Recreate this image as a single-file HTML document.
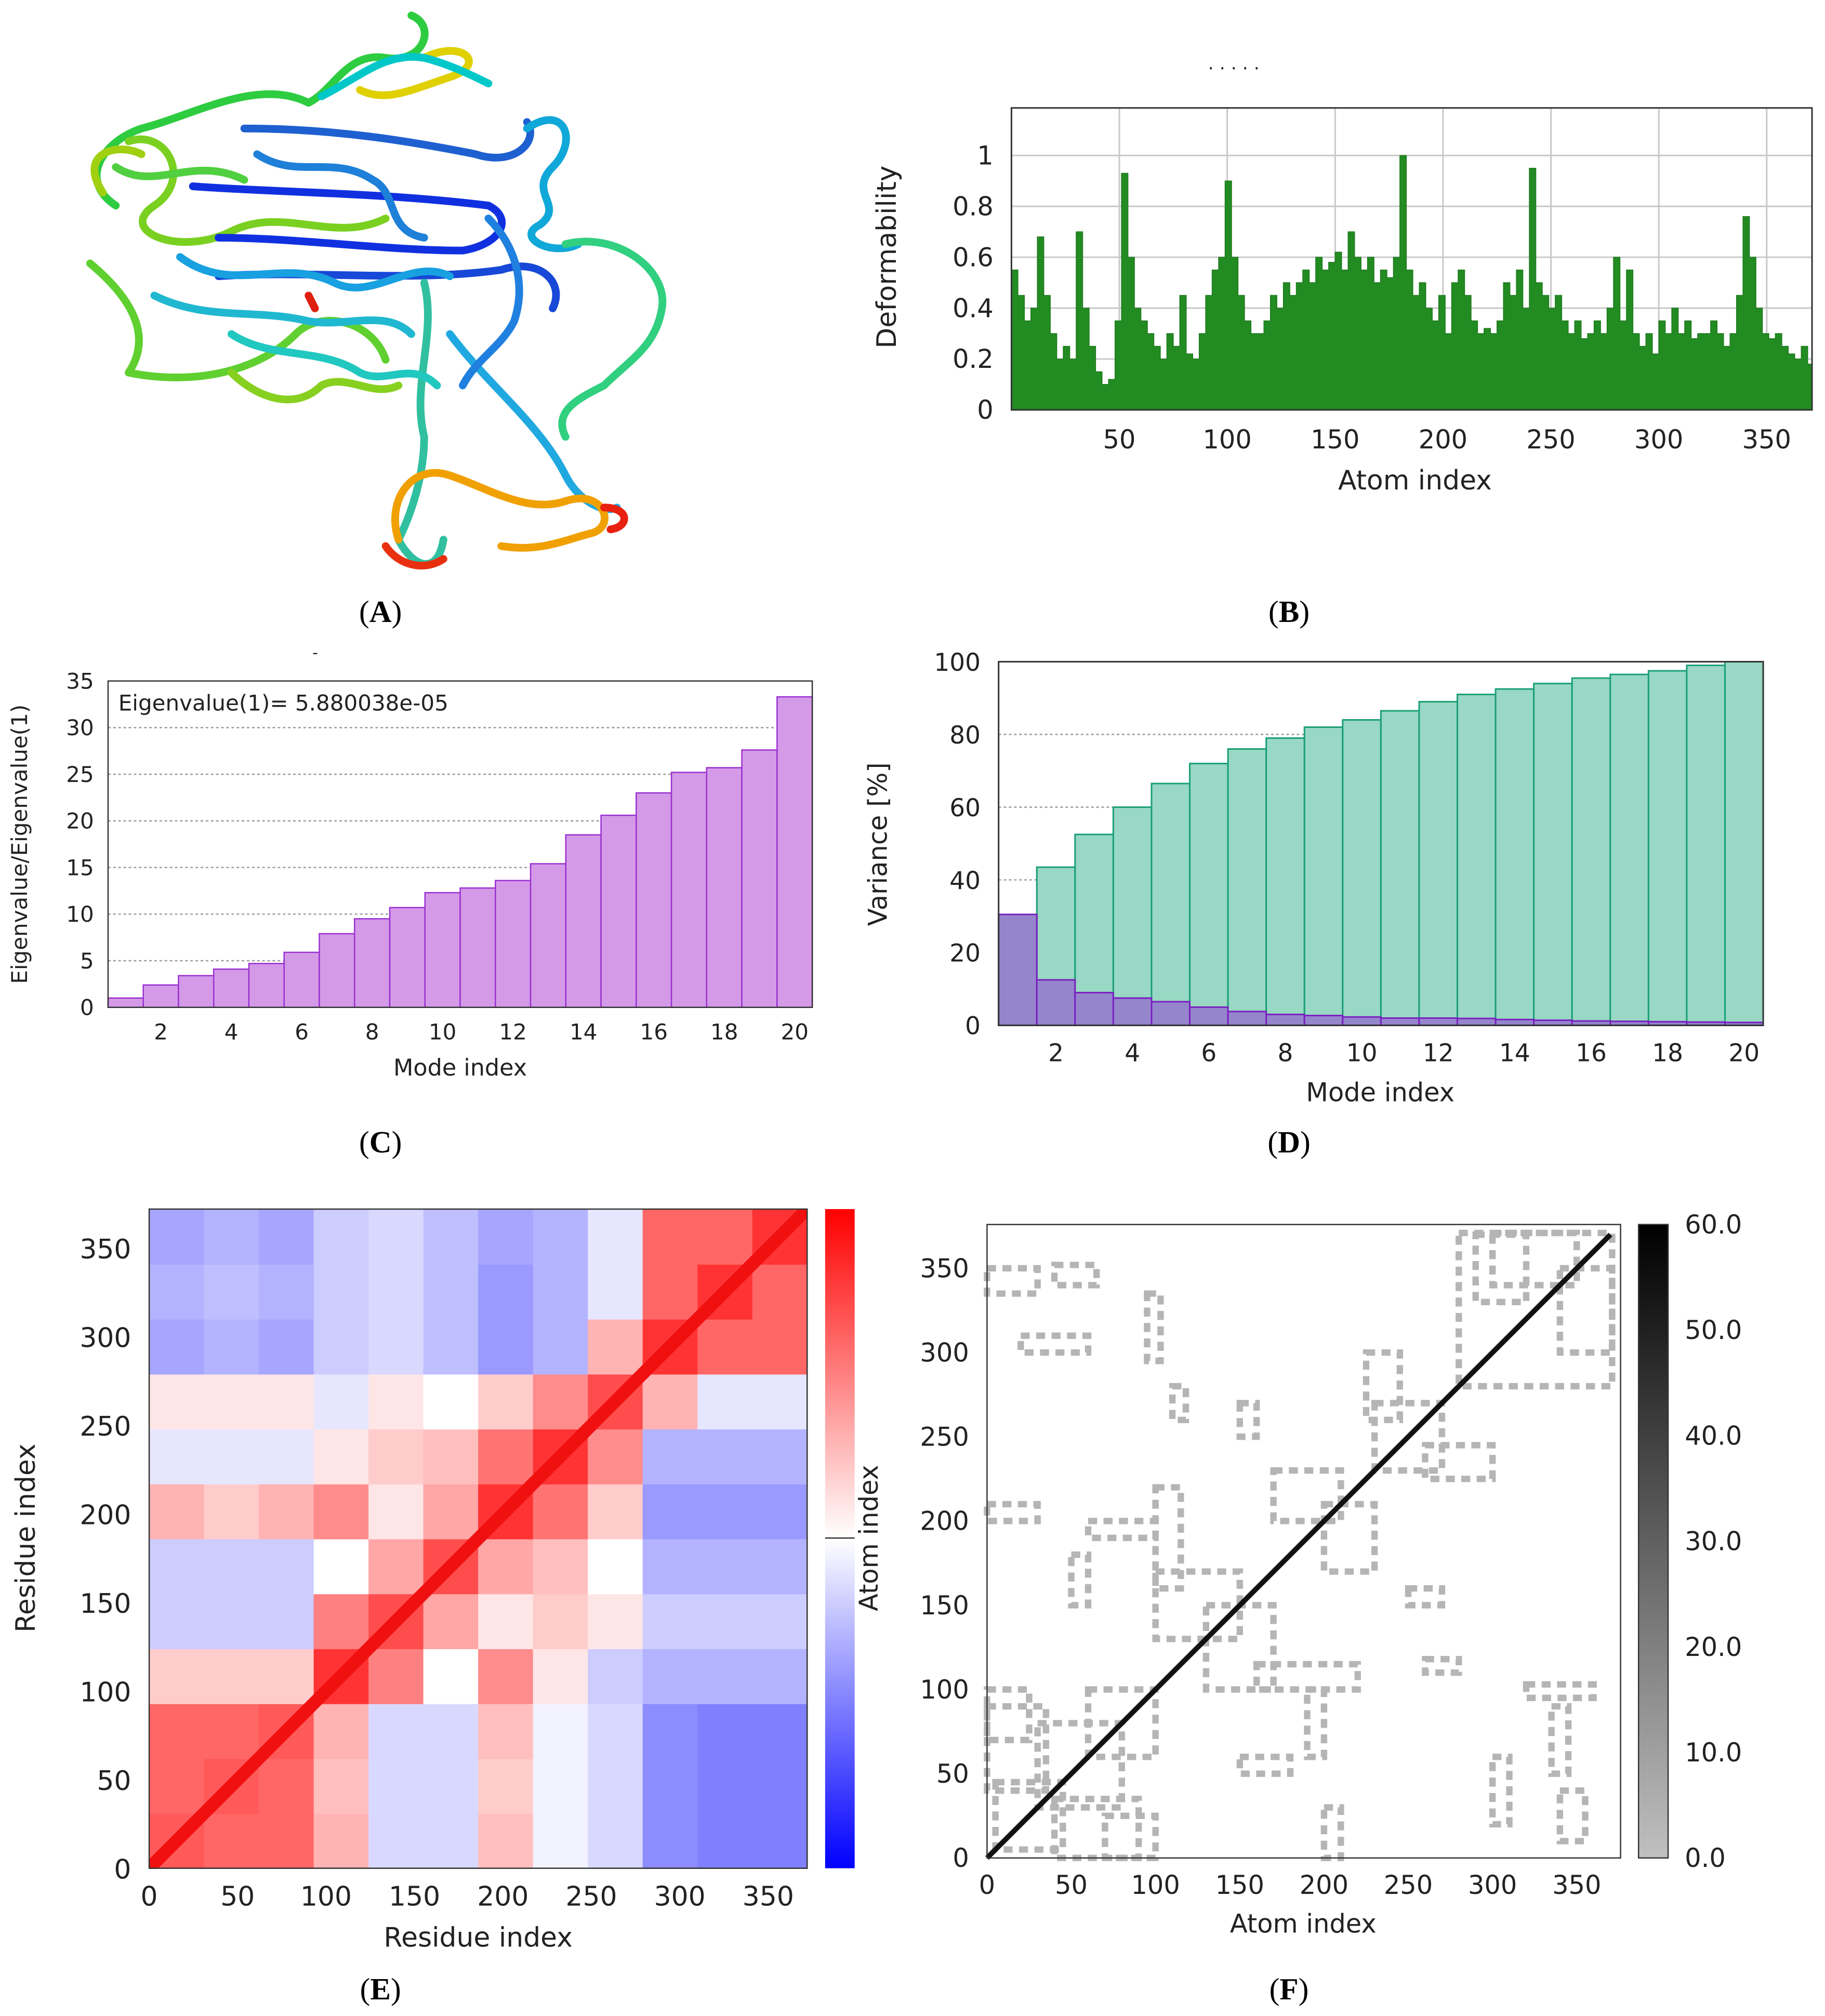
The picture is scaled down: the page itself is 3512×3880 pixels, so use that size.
<!DOCTYPE html>
<html><head><meta charset="utf-8"><style>
html,body{margin:0;padding:0;background:#fff}
svg{display:block}
text{font-family:"DejaVu Sans","Liberation Sans",sans-serif;fill:#222}
.lab{font-family:"Liberation Serif",serif;font-size:24px;fill:#000}
</style></head><body>
<svg id="fig" width="3512" height="3880" viewBox="0 0 1420 1569" xmlns="http://www.w3.org/2000/svg">
<g id="pA" fill="none" stroke-width="6" stroke-linecap="round" stroke-linejoin="round">
<path d="M320 12 C340 20 330 50 300 45 C270 40 260 70 240 80 C200 60 150 90 110 100 C80 110 60 140 90 160" stroke="#2ecc40"/>
<path d="M330 45 C360 30 380 50 350 60 C320 70 300 80 280 70" stroke="#e0d000"/>
<path d="M250 75 C280 60 300 40 330 45 C350 50 370 60 380 65" stroke="#00c8c8"/>
<path d="M100 110 C130 100 150 140 120 160 C90 180 140 200 180 180 C220 160 260 190 300 170" stroke="#7ad020"/>
<path d="M150 145 C220 150 300 150 380 160 C400 170 390 190 360 195 C300 195 230 185 170 185" stroke="#1030e0"/>
<path d="M190 100 C260 100 320 110 370 120 C400 130 420 110 410 95" stroke="#1e60d0"/>
<path d="M170 215 C240 210 320 220 390 210 C420 200 440 220 430 240" stroke="#1848d8"/>
<path d="M410 100 C440 80 450 110 430 130 C410 150 440 160 420 175 C400 185 430 200 450 190" stroke="#10a8d8"/>
<path d="M70 205 C100 230 120 260 100 290 C150 300 200 290 230 260 C250 240 290 250 300 280" stroke="#60d030"/>
<path d="M120 230 C160 250 200 240 240 250 C270 255 300 240 320 260" stroke="#20b8d0"/>
<path d="M440 190 C480 180 520 210 515 240 C510 270 490 280 470 300 C450 310 430 320 440 340" stroke="#30d080"/>
<path d="M330 220 C340 260 320 300 330 340 C330 370 320 400 310 420 C320 440 340 450 345 420" stroke="#30c0a0"/>
<path d="M350 260 C380 300 420 330 440 370 C450 390 470 400 480 395" stroke="#20a8e0"/>
<path d="M310 420 C300 390 320 360 350 370 C380 380 410 400 440 390 C470 380 480 410 460 415 C440 420 420 430 390 425" stroke="#f0a000"/>
<path d="M300 425 C310 440 330 445 345 435" stroke="#e83010"/>
<path d="M470 395 C490 395 490 410 475 412" stroke="#e82010"/>
<path d="M180 290 C200 310 230 320 250 300 C270 290 290 310 310 300" stroke="#88d020"/>
<path d="M80 150 C60 120 90 110 110 120" stroke="#a0d010"/>
<path d="M240 230 L245 240" stroke="#e02010"/>
<path d="M140 200 C180 230 220 200 260 220 C290 235 320 200 350 215" stroke="#18a0e0"/>
<path d="M200 120 C230 140 260 120 290 140 C310 150 300 180 330 185" stroke="#1e80d8"/>
<path d="M180 260 C210 280 250 270 280 290 C300 300 320 280 340 300" stroke="#20c8c0"/>
<path d="M90 130 C120 150 150 120 190 140" stroke="#50d040"/>
<path d="M380 170 C400 190 410 220 400 250 C390 270 370 280 360 300" stroke="#2080e0"/>
</g>
<g id="pB"></g>
<g id="pC"></g>
<g id="pD"></g>
<g id="pE"></g>
<g id="pF"></g>
<text class="lab" x="296" y="484" text-anchor="middle">(<tspan font-weight="bold">A</tspan>)</text>
<text class="lab" x="1003" y="484" text-anchor="middle">(<tspan font-weight="bold">B</tspan>)</text>
<text class="lab" x="296" y="897" text-anchor="middle">(<tspan font-weight="bold">C</tspan>)</text>
<text class="lab" x="1003" y="897" text-anchor="middle">(<tspan font-weight="bold">D</tspan>)</text>
<text class="lab" x="296" y="1556" text-anchor="middle">(<tspan font-weight="bold">E</tspan>)</text>
<text class="lab" x="1003" y="1556" text-anchor="middle">(<tspan font-weight="bold">F</tspan>)</text>
</svg>
<script>
const NS="http://www.w3.org/2000/svg";
function mk(parent,tag,attrs,txt){const e=document.createElementNS(NS,tag);for(const k in attrs)e.setAttribute(k,attrs[k]);if(txt!==undefined)e.textContent=txt;parent.appendChild(e);return e;}

// ---------- B data ----------
const bStep=3;
const bDeform=[0.55,0.45,0.35,0.4,0.68,0.45,0.3,0.2,0.25,0.2,
0.7,0.4,0.25,0.15,0.1,0.12,0.35,0.93,0.6,0.4,
0.35,0.3,0.25,0.2,0.3,0.25,0.45,0.22,0.2,0.3,
0.45,0.55,0.6,0.9,0.6,0.45,0.35,0.3,0.3,0.35,
0.45,0.4,0.5,0.45,0.5,0.55,0.5,0.6,0.55,0.58,
0.62,0.55,0.7,0.6,0.55,0.6,0.5,0.55,0.52,0.6,
1.0,0.55,0.45,0.5,0.4,0.35,0.45,0.3,0.5,0.55,
0.45,0.35,0.3,0.32,0.3,0.35,0.5,0.45,0.55,0.4,
0.95,0.5,0.45,0.4,0.45,0.35,0.3,0.35,0.28,0.3,
0.35,0.3,0.4,0.6,0.35,0.55,0.3,0.25,0.3,0.22,
0.35,0.3,0.4,0.3,0.35,0.28,0.3,0.3,0.35,0.3,
0.25,0.3,0.45,0.76,0.6,0.4,0.3,0.28,0.3,0.25,
0.22,0.2,0.25,0.18];
const bXTicks=[50,100,150,200,250,300,350];
const bYTicks=[0,0.2,0.4,0.6,0.8,1];
// ---------- C data ----------
const cEigen=[1,2.4,3.4,4.1,4.7,5.9,7.9,9.5,10.7,12.3,12.8,13.6,15.4,18.5,20.6,23,25.2,25.7,27.6,33.3];
const cYTicks=[0,5,10,15,20,25,30,35];
const cXTicks=[2,4,6,8,10,12,14,16,18,20];
// ---------- D data ----------
const dCumul=[30.5,43.5,52.5,60,66.5,72,76,79,82,84,86.5,89,91,92.5,94,95.5,96.5,97.5,99,100];
const dIndiv=[30.5,12.5,9,7.5,6.5,5,3.8,3,2.7,2.3,2,2,1.9,1.6,1.4,1.2,1.1,1,0.9,0.8];
const dYTicks=[0,20,40,60,80,100];
const dXTicks=[2,4,6,8,10,12,14,16,18,20];
// ---------- E data (12x12 blocks, rows bottom->top) ----------
const eBlocks=[
[0.65,0.6,0.6,0.3,-0.15,-0.15,0.25,-0.05,-0.15,-0.45,-0.5,-0.5],
[0.6,0.65,0.6,0.25,-0.15,-0.15,0.2,-0.05,-0.15,-0.45,-0.5,-0.5],
[0.6,0.6,0.65,0.3,-0.15,-0.15,0.25,-0.05,-0.15,-0.45,-0.5,-0.5],
[0.2,0.2,0.2,0.8,0.5,0.0,0.45,0.1,-0.2,-0.3,-0.3,-0.3],
[-0.2,-0.2,-0.2,0.5,0.7,0.35,0.1,0.2,0.1,-0.2,-0.2,-0.2],
[-0.2,-0.2,-0.2,0.0,0.35,0.7,0.35,0.25,0.0,-0.3,-0.3,-0.3],
[0.3,0.2,0.3,0.45,0.1,0.35,0.8,0.55,0.2,-0.4,-0.4,-0.4],
[-0.1,-0.1,-0.1,0.1,0.2,0.25,0.55,0.8,0.45,-0.3,-0.3,-0.3],
[0.1,0.1,0.1,-0.1,0.1,0.0,0.2,0.45,0.7,0.3,-0.1,-0.1],
[-0.35,-0.3,-0.35,-0.2,-0.15,-0.25,-0.4,-0.3,0.3,0.8,0.6,0.6],
[-0.3,-0.25,-0.3,-0.2,-0.15,-0.25,-0.4,-0.3,-0.1,0.6,0.8,0.6],
[-0.35,-0.3,-0.35,-0.2,-0.15,-0.25,-0.35,-0.3,-0.1,0.6,0.6,0.8]];
const eBlockSize=31;
const eTicks=[0,50,100,150,200,250,300,350];
// ---------- F data (gray contact patches: x,y,w,h residue units) ----------
const fPatches=[
[5,5,40,40],[30,30,50,50],[0,40,35,50],[40,0,50,35],[60,60,40,40],[0,70,25,30],[70,0,30,25],
[280,280,91,91],[300,340,50,31],[340,300,31,50],[290,330,30,40],
[230,230,40,40],[200,170,30,40],[170,200,40,30],[100,130,50,40],[130,100,40,50],
[160,100,60,15],[100,160,15,60],[225,260,20,40],[260,225,40,20],
[0,335,30,15],[40,340,25,12],[95,295,8,40],[320,95,40,8],[260,110,20,8],[110,260,8,20],
[0,200,30,10],[200,0,10,30],[150,50,30,10],[50,150,10,30],[190,60,10,40],[60,190,40,10],
[250,150,20,10],[150,250,10,20],[300,20,10,40],[20,300,40,10],[340,10,15,30],[335,50,10,40]];
const fTicks=[0,50,100,150,200,250,300,350];
const fCbTicks=[0,10,20,30,40,50,60];

// ---------- B ----------
(function(){
const g=document.getElementById('pB');
const X0=787,X1=1410,Y0=319,Y1=84;
const xs=v=>X0+(v)*(X1-X0)/371, ys=v=>Y0-v*198;
mk(g,'text',{x:940,y:58,'font-size':14,fill:'#555'},'·   ·   ·   ·   ·');
for(const t of bXTicks){const l=mk(g,'line',{x1:xs(t),x2:xs(t),y1:Y1,y2:Y0,stroke:'#c8c8c8','stroke-width':1.2});
const tx=mk(g,'text',{x:xs(t),y:349,'text-anchor':'middle','font-size':20},t);}
for(const t of bYTicks){mk(g,'line',{x1:X0,x2:X1,y1:ys(t),y2:ys(t),stroke:'#c8c8c8','stroke-width':1.2});
const tx=mk(g,'text',{x:773,y:ys(t)+7,'text-anchor':'end','font-size':20},String(t));}
let d='M'+X0+' '+Y0;
bDeform.forEach((v,i)=>{const a=xs(i*bStep),b=xs(Math.min(371,(i+1)*bStep));d+=' L'+a+' '+ys(v)+' L'+b+' '+ys(v);});
d+=' L'+X1+' '+Y0+' Z';
const p=mk(g,'path',{d:d,fill:'#228b22',stroke:'#1e7a1e','stroke-width':0.6});

mk(g,'rect',{x:X0,y:Y1,width:X1-X0,height:Y0-Y1,fill:'none',stroke:'#333','stroke-width':1.2});
const xt=mk(g,'text',{x:1101,y:381,'text-anchor':'middle','font-size':21},'Atom index');
const yt=mk(g,'text',{x:0,y:0,transform:'translate(697 200) rotate(-90)','text-anchor':'middle','font-size':21},'Deformability');
})();

// ---------- C ----------
(function(){
const g=document.getElementById('pC');
const X0=84,X1=632,Y0=784,Y1=530,n=cEigen.length,bw=(X1-X0)/n;
const ys=v=>Y0-v*(Y0-Y1)/35, xc=i=>X0+(i-0.5)*bw;
for(const t of cYTicks){if(t>0&&t<35)mk(g,'line',{x1:X0,x2:X1,y1:ys(t),y2:ys(t),stroke:'#999','stroke-dasharray':'2 2','stroke-width':1});
const tx=mk(g,'text',{x:73,y:ys(t)+6,'text-anchor':'end','font-size':17},t);}
cEigen.forEach((v,i)=>{const r=mk(g,'rect',{x:X0+i*bw,y:ys(v),width:bw,height:Y0-ys(v),fill:'#d49ae8',stroke:'#9a2fd0','stroke-width':1});
});
for(const t of cXTicks){const tx=mk(g,'text',{x:xc(t),y:809,'text-anchor':'middle','font-size':17},t);}
mk(g,'rect',{x:X0,y:Y1,width:X1-X0,height:Y0-Y1,fill:'none',stroke:'#333','stroke-width':1});
const lg=mk(g,'text',{x:92,y:553,'font-size':17},'Eigenvalue(1)= 5.880038e-05');
mk(g,'text',{x:243,y:512,'font-size':12},'-');
const xt=mk(g,'text',{x:358,y:837,'text-anchor':'middle','font-size':18},'Mode index');
const yt=mk(g,'text',{x:0,y:0,transform:'translate(21 657) rotate(-90)','text-anchor':'middle','font-size':17},'Eigenvalue/Eigenvalue(1)');
})();

// ---------- D ----------
(function(){
const g=document.getElementById('pD');
const X0=777,X1=1372,Y0=798,Y1=515,n=dCumul.length,bw=(X1-X0)/n;
const ys=v=>Y0-v*(Y0-Y1)/100, xc=i=>X0+(i-0.5)*bw;
for(const t of dYTicks){if(t>0&&t<100)mk(g,'line',{x1:X0,x2:X1,y1:ys(t),y2:ys(t),stroke:'#999','stroke-dasharray':'2 2','stroke-width':1});
const tx=mk(g,'text',{x:763,y:ys(t)+7,'text-anchor':'end','font-size':19},t);}
dCumul.forEach((v,i)=>{const r=mk(g,'rect',{x:X0+i*bw,y:ys(v),width:bw,height:Y0-ys(v),fill:'#98d8c4',stroke:'#1a9e77','stroke-width':1.2});
});
dIndiv.forEach((v,i)=>{const r=mk(g,'rect',{x:X0+i*bw,y:ys(v),width:bw,height:Y0-ys(v),fill:'#9585cc',stroke:'#7a1fc0','stroke-width':1.2});
});
for(const t of dXTicks){const tx=mk(g,'text',{x:xc(t),y:826,'text-anchor':'middle','font-size':19},t);}
mk(g,'rect',{x:X0,y:Y1,width:X1-X0,height:Y0-Y1,fill:'none',stroke:'#333','stroke-width':1.2});
const xt=mk(g,'text',{x:1074,y:857,'text-anchor':'middle','font-size':20},'Mode index');
const yt=mk(g,'text',{x:0,y:0,transform:'translate(690 657) rotate(-90)','text-anchor':'middle','font-size':20},'Variance [%]');
})();

// ---------- E ----------
(function(){
const g=document.getElementById('pE');
const X0=116,X1=628,Y0=1454,Y1=941,N=372;
const xs=v=>X0+v*(X1-X0)/N, ys=v=>Y0-v*(Y0-Y1)/N;
const col=v=>{v=Math.max(-1,Math.min(1,v));if(v>=0){const k=Math.round(255*(1-v));return `rgb(255,${k},${k})`;}const k=Math.round(255*(1+v));return `rgb(${k},${k},255)`;};
eBlocks.forEach((row,i)=>row.forEach((v,j)=>{
const r=mk(g,'rect',{x:xs(j*eBlockSize),y:ys((i+1)*eBlockSize),width:xs(eBlockSize)-X0+0.5,height:ys(0)-ys(eBlockSize)+0.5,fill:col(v)});
}));
const defs0=mk(g,'defs',{});const cp=mk(defs0,'clipPath',{id:'eclip'});mk(cp,'rect',{x:X0,y:Y1,width:X1-X0,height:Y0-Y1});
const dg=mk(g,'line',{x1:xs(0),y1:ys(0),x2:xs(N),y2:ys(N),stroke:'#f01010','stroke-width':10,'clip-path':'url(#eclip)'});

mk(g,'rect',{x:X0,y:Y1,width:X1-X0,height:Y0-Y1,fill:'none',stroke:'#333','stroke-width':1});
for(const t of eTicks){const a=mk(g,'text',{x:xs(t),y:1483,'text-anchor':'middle','font-size':21},t);
const b=mk(g,'text',{x:102,y:ys(t)+8,'text-anchor':'end','font-size':21},t);}
const defs=mk(g,'defs',{});const lgd=mk(defs,'linearGradient',{id:'bwr',x1:0,y1:1,x2:0,y2:0});
mk(lgd,'stop',{offset:0,'stop-color':'#0000ff'});mk(lgd,'stop',{offset:0.5,'stop-color':'#ffffff'});mk(lgd,'stop',{offset:1,'stop-color':'#ff0000'});
const cb=mk(g,'rect',{x:642,y:941,width:23,height:513,fill:'url(#bwr)'});
mk(g,'line',{x1:642,x2:665,y1:1197,y2:1197,stroke:'#333','stroke-width':1});
const xt=mk(g,'text',{x:372,y:1515,'text-anchor':'middle','font-size':21},'Residue index');
const yt=mk(g,'text',{x:0,y:0,transform:'translate(27 1197) rotate(-90)','text-anchor':'middle','font-size':21},'Residue index');
const ct=mk(g,'text',{x:0,y:0,transform:'translate(683 1197) rotate(-90)','text-anchor':'middle','font-size':20},'Atom index');
})();

// ---------- F ----------
(function(){
const g=document.getElementById('pF');
const X0=768,X1=1261,Y0=1446,Y1=953,N=376;
const xs=v=>X0+v*(X1-X0)/N, ys=v=>Y0-v*(Y0-Y1)/N;
fPatches.forEach(p=>{const [x,y,w,h]=p;
const r=mk(g,'rect',{x:xs(x),y:ys(y+h),width:xs(w)-X0,height:ys(0)-ys(h),fill:'none',stroke:'#b5b5b5','stroke-width':5,'stroke-dasharray':'7 5'});
});
const dl=mk(g,'line',{x1:xs(0),y1:ys(0),x2:xs(N-6),y2:ys(N-6),stroke:'#111','stroke-width':4});
mk(g,'rect',{x:X0,y:Y1,width:X1-X0,height:Y0-Y1,fill:'none',stroke:'#333','stroke-width':1});
for(const t of fTicks){const a=mk(g,'text',{x:xs(t),y:1474,'text-anchor':'middle','font-size':20},t);
const b=mk(g,'text',{x:754,y:ys(t)+7,'text-anchor':'end','font-size':20},t);}
const defs=mk(g,'defs',{});const lg=mk(defs,'linearGradient',{id:'gray',x1:0,y1:1,x2:0,y2:0});
mk(lg,'stop',{offset:0,'stop-color':'#c0c0c0'});mk(lg,'stop',{offset:1,'stop-color':'#000'});
const cb=mk(g,'rect',{x:1275,y:953,width:23,height:493,fill:'url(#gray)',stroke:'#333','stroke-width':1});
for(const t of fCbTicks){const y=1446-t*493/60;const a=mk(g,'text',{x:1311,y:y+7,'font-size':20},t.toFixed(1));}
const xt=mk(g,'text',{x:1014,y:1504,'text-anchor':'middle','font-size':20},'Atom index');
})();
</script>
</body></html>
